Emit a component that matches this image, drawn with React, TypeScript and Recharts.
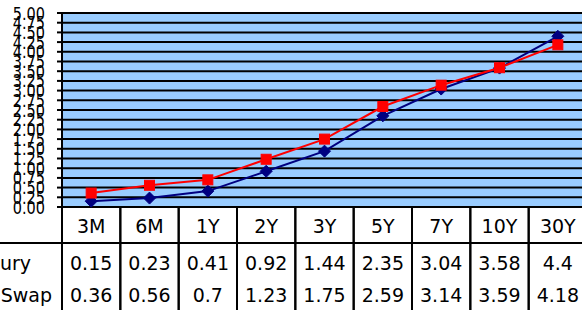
import { LineChart, Line, XAxis, YAxis, CartesianGrid } from 'recharts';

const tenors = ['3M', '6M', '1Y', '2Y', '3Y', '5Y', '7Y', '10Y', '30Y'];
const treasury = [0.15, 0.23, 0.41, 0.92, 1.44, 2.35, 3.04, 3.58, 4.4];
const swap = [0.36, 0.56, 0.7, 1.23, 1.75, 2.59, 3.14, 3.59, 4.18];
const yTicks = [0, 0.25, 0.5, 0.75, 1, 1.25, 1.5, 1.75, 2, 2.25, 2.5, 2.75, 3, 3.25, 3.5, 3.75, 4, 4.25, 4.5, 4.75, 5];

const data = tenors.map((name, i) => ({ name, treasury: treasury[i], swap: swap[i] }));

const W = 590;
const H = 310;
const AXIS_H = 103;
const PLOT_BOTTOM = H - AXIS_H;
const FONT = '"DejaVu Sans", Verdana, sans-serif';

// x axis ticks double as the data table under the plot
function TableTick(props: any) {
  const { x, payload, index, width } = props;
  const half = payload && payload.offset ? payload.offset : width / tenors.length / 2;
  const left = x - half;
  const right = x + half;
  const txt = { fontSize: 19, fill: '#000', fontFamily: FONT, textAnchor: 'middle' as const };
  return (
    <g>
      <line x1={left} y1={PLOT_BOTTOM} x2={left} y2={H} stroke="#000" strokeWidth={2} />
      <line x1={right} y1={PLOT_BOTTOM} x2={right} y2={H} stroke="#000" strokeWidth={2} />
      <line x1={index === 0 ? 0 : left} y1={243} x2={right} y2={243} stroke="#000" strokeWidth={2} />
      <text x={x} y={233} {...txt}>{payload.value}</text>
      <text x={x} y={270} {...txt}>{treasury[index]}</text>
      <text x={x} y={302} {...txt}>{swap[index]}</text>
      {index === 0 && (
        <>
          <text x={31} y={270} {...txt} textAnchor="end">Treasury</text>
          <text x={52} y={302} {...txt} textAnchor="end">Swap</text>
        </>
      )}
    </g>
  );
}

// y labels in the original are squeezed tall, so stretch them a little
function YTick(props: any) {
  const { x, y, payload } = props;
  return (
    <text
      transform={`translate(${x},${y}) scale(1,1.25)`}
      dy="0.36em"
      textAnchor="end"
      fontSize={14.5}
      fontFamily={FONT}
      fill="#000"
    >
      {Number(payload.value).toFixed(2)}
    </text>
  );
}

function Diamond(props: any) {
  const { cx, cy } = props;
  if (cx == null || cy == null) return null;
  const r = 6;
  return <polygon points={`${cx},${cy - r} ${cx + r},${cy} ${cx},${cy + r} ${cx - r},${cy}`} fill="#000080" stroke="#000080" />;
}

function Square(props: any) {
  const { cx, cy } = props;
  if (cx == null || cy == null) return null;
  const s = 10;
  return <rect x={cx - s / 2} y={cy - s / 2} width={s} height={s} fill="#FF0000" stroke="#FF0000" />;
}

export default function App() {
  return (
    <div style={{ position: 'absolute', left: 0, top: 0, width: 582, height: 310, overflow: 'hidden', background: '#fff' }}>
      <style>{'body{margin:0}'}</style>
      <LineChart width={W} height={H} data={data} margin={{ top: 13, right: 3, left: 0, bottom: 0 }} style={{ fontFamily: FONT }}>
        <CartesianGrid vertical={false} stroke="#000" strokeWidth={2} fill="#99CCFF" fillOpacity={1} />
        <XAxis
          dataKey="name"
          scale="band"
          height={AXIS_H}
          interval={0}
          axisLine={false}
          tickLine={false}
          tick={<TableTick />}
        />
        <YAxis
          width={62}
          domain={[0, 5]}
          ticks={yTicks}
          interval={0}
          axisLine={{ stroke: '#000', strokeWidth: 2 }}
          tickLine={{ stroke: '#000', strokeWidth: 2 }}
          tickSize={5}
          tickMargin={12}
          tick={<YTick />}
        />
        <Line type="linear" dataKey="treasury" stroke="#000080" strokeWidth={2} dot={<Diamond />} activeDot={false} isAnimationActive={false} />
        <Line type="linear" dataKey="swap" stroke="#FF0000" strokeWidth={2} dot={<Square />} activeDot={false} isAnimationActive={false} />
      </LineChart>
    </div>
  );
}
